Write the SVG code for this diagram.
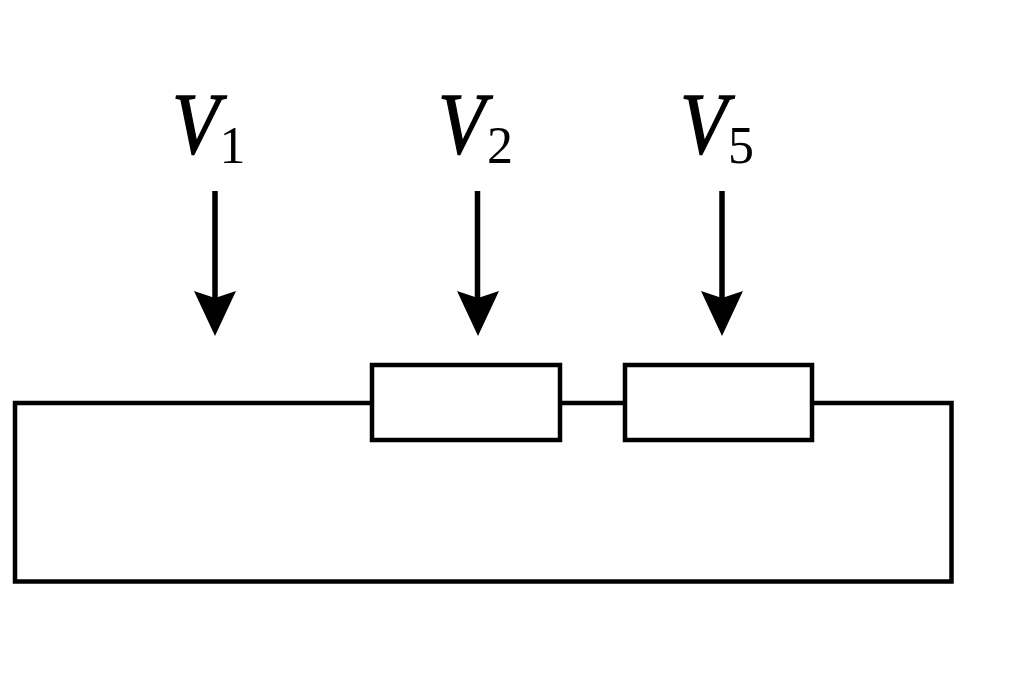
<svg xmlns="http://www.w3.org/2000/svg" width="1024" height="683" viewBox="0 0 1024 683">
<style>
.w{fill:none;stroke:#000;stroke-width:4.500}
.a{fill:none;stroke:#000;stroke-width:5.500}
.v{font-family:"Liberation Serif",serif;font-style:italic;font-size:86px;fill:#000;stroke:#000;stroke-width:1.300}
.s{font-family:"Liberation Serif",serif;font-size:52px;fill:#000}
</style>
<rect width="1024" height="683" fill="#fff"/>
<g id="connectors">
<path class="w" d="M372 403H15V581.500H951.500V403H812"/>
<path class="w" d="M560 403H625"/>
<path class="a" d="M215 191V310"/><path d="M194 291L215 336L236 291L215 298Z"/>
<path class="a" d="M477.500 191V310"/><path d="M457 291L478 336L499 291L478 298Z"/>
<path class="a" d="M722 191V310"/><path d="M701 291L722 336L743 291L722 298Z"/>
</g>
<g id="r1"><rect class="w" x="372" y="365" width="188" height="75"/></g>
<g id="r2"><rect class="w" x="625" y="365" width="187" height="75"/></g>
<g id="v1"><text class="v" transform="translate(172 153) scale(.9 1)">V</text><text class="s" x="219.500" y="163">1</text></g>
<g id="v2"><text class="v" transform="translate(438 153) scale(.9 1)">V</text><text class="s" x="487" y="163">2</text></g>
<g id="v3"><text class="v" transform="translate(680 153) scale(.9 1)">V</text><text class="s" x="728" y="163">5</text></g>
</svg>
